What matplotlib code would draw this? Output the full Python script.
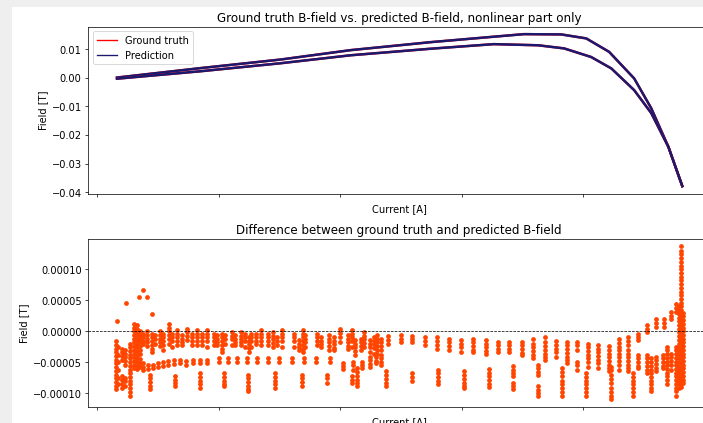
import numpy as np
import matplotlib
matplotlib.use('Agg')
import matplotlib.pyplot as plt
from matplotlib.lines import Line2D
from matplotlib.patches import Rectangle

# Nonlinear part of the B-field over one current cycle (current in A, field in T)
current_upper = [8.2, 42.5, 75.4, 104.3, 137.3, 163.2, 175.6, 190.9, 201.2, 210.6, 220.9, 227.9, 235.0, 240.7]
field_upper = [0.0001, 0.0034, 0.0064, 0.0097, 0.0125, 0.0144, 0.0153, 0.0152, 0.0138, 0.0091, -0.0002, -0.0106, -0.0242, -0.0379]
current_lower = [8.2, 42.5, 75.4, 104.3, 137.3, 163.2, 181.4, 192.1, 203.2, 211.5, 220.9, 227.9, 235.0, 240.7]
field_lower = [-0.0003, 0.0023, 0.0051, 0.0079, 0.0102, 0.0118, 0.0114, 0.0103, 0.0073, 0.0033, -0.0043, -0.0123, -0.0242, -0.0379]

# Difference ground truth - prediction, in microtesla, grouped per current step
outlier_current = [8.4, 12.0, 17.4, 18.8, 20.5, 22.5]
outlier_diff = [16, 45, 55, 67, 56, 28]

start_cluster = [
    (7.8, [-16, -22, -28, -34, -40, -46, -52, -58, -64, -70, -76, -82, -88, -93]),
    (8.8, [-25, -38, -50, -62, -75, -86]),
    (10.3, [-28, -34, -40, -46, -73, -79, -85, -91]),
    (11.5, [-30, -36, -42, -48, -54, -75, -81, -88]),
    (13.6, [-20, -26, -32, -38, -44, -50, -56, -62, -68, -74, -80, -86, -92, -98, -104]),
    (15.3, [12, 6, 0, -6, -12, -18, -24, -30, -36, -42, -48, -54, -60]),
    (16.5, [10, 4, -2, -8, -14, -20, -26, -32, -38, -44, -50, -56, -61]),
    (17.7, [0, -6, -12, -18, -24, -30, -36, -45, -52, -58]),
]

upper_band = [
    (19.1, [-4, -10, -16, -20]), (20.5, [0, -6, -12, -18, -24]),
    (22.5, [-4, -10, -16, -22, -28, -33]), (23.9, [-6, -12, -20]),
    (26.0, [0, -6, -12, -18, -24]), (27.3, [-4, -10, -16, -22, -30]),
    (29.4, [12, 6, 0, -6, -12, -20]), (30.8, [-4, -10, -16, -25]),
    (32.9, [2, -4, -10, -16, -22]), (34.9, [-6, -12, -17, -22]),
    (37.0, [4, -2, -8, -14]), (39.0, [-4, -10, -16, -22]),
    (41.1, [2, -4, -10, -16, -22]), (43.2, [-4, -10, -16, -22]),
    (45.2, [2, -4, -10, -16, -25]), (47.9, [-4, -10, -16, -22]),
    (49.3, [-6, -12, -17, -22]), (51.4, [-4, -10, -16, -22, -28, -33]),
    (52.8, [-6, -12, -20]), (55.5, [-1, -7, -13, -22]),
    (56.9, [-6, -12, -17, -22]), (59.4, [-1, -7, -13, -18, -22]),
    (61.0, [-4, -10, -16, -25]), (62.4, [-9, -15, -21, -27, -33]),
    (63.5, [-4, -10, -16, -25]), (65.4, [-4, -10, -16, -20]),
    (67.6, [2, -4, -10, -16, -22]), (70.4, [-4, -10, -16, -22]),
    (72.3, [-1, -7, -13, -19, -25]), (74.1, [-9, -15, -22]),
    (76.1, [2, -4, -10, -16, -25]), (80.9, [-4, -10, -16, -25]),
    (83.0, [-14, -20, -25, -30]), (84.6, [2, -4, -10, -16, -22, -28, -33]),
    (85.7, [-6, -12, -18, -25]), (90.6, [-4, -10, -16, -22]),
    (92.3, [-9, -15, -20, -25]), (95.3, [-6, -12, -18, -24, -30]),
    (97.4, [-9, -15, -21, -27, -30]), (99.9, [3, -3, -9, -17]),
    (103.2, [-6, -12, -18, -24, -28]), (105.0, [2, -4, -10, -16, -25]),
    (105.9, [-14, -20, -26, -32, -38]), (108.4, [-12, -18, -24, -30]),
    (109.8, [-1, -7, -13, -19, -25]), (112.2, [-14, -20, -26, -33]),
    (113.9, [-9, -15, -21, -27, -36]), (115.3, [-6, -12, -18, -24, -30, -36]),
    (116.7, [-12, -18, -24, -30, -38]), (119.8, [-8, -14, -20]),
    (124.9, [-6, -12, -17]), (129.7, [-8, -13, -18]),
    (134.9, [-10, -16, -22]), (139.7, [-10, -16, -22, -28]),
    (144.8, [-12, -18, -24, -30]), (149.6, [-14, -20, -26, -33]),
    (154.7, [-12, -18, -24, -30, -33]), (159.9, [-14, -20, -26, -32, -36]),
    (164.8, [-17, -23, -28, -33]), (169.5, [-17, -23, -28, -33]),
    (174.8, [-17, -23, -29, -35, -38]), (179.4, [-12, -20, -26, -32, -38, -44]),
    (184.3, [-10, -18, -24, -30, -36, -42, -46]), (188.8, [-16, -22, -28, -34, -41]),
    (193.3, [-17, -23, -29, -35, -41, -47, -51]), (197.4, [-17, -23, -30]),
    (201.9, [-20, -26, -32, -38, -44, -50, -57]), (206.2, [-22, -28, -34, -40, -46, -52, -60]),
    (210.5, [-24, -30, -36, -42, -48, -54, -60, -65]), (214.5, [-13, -19, -25, -30]),
    (218.3, [-9, -15, -22]), (222.5, [-4, -9, -14]),
    (226.3, [10, 4, -1]), (229.7, [20, 14, 7]),
    (233.0, [20, 14, 7]), (236.2, [31, 25, 20]),
    (238.2, [44, 38, 31]),
]

middle_band = [
    (18.9, [-52, -57, -62]), (21.0, [-55, -61]), (23.1, [-54, -60]),
    (25.1, [-52, -58]), (27.2, [-50, -56]), (29.3, [-48, -55]),
    (31.7, [-47, -53]), (34.2, [-47, -52]), (36.7, [-48, -54]),
    (39.6, [-46, -52]), (42.5, [-46, -52]), (45.3, [-46, -52]),
    (50.0, [-43, -50]), (53.9, [-43, -50]), (57.6, [-43, -50]),
    (61.7, [-43, -50]), (65.8, [-43, -50]), (70.4, [-43, -50]),
    (75.0, [-43, -50]), (80.0, [-43, -50]), (85.0, [-43, -50]),
    (90.1, [-43, -50]), (95.8, [-43, -50]),
    (101.3, [-51, -56, -61]), (105.4, [-49, -55, -62]), (109.1, [-49, -54, -59]),
    (112.2, [-41, -47, -53, -57]), (114.6, [-36, -42, -48, -52]), (116.7, [-44, -49, -54]),
    (197.4, [-49, -55, -62]), (214.5, [-36, -42, -48, -54, -62]),
    (218.3, [-30, -36, -42, -48, -54, -60, -65]), (222.5, [-38, -44, -50, -56, -60]),
    (226.3, [-38, -44, -50, -56, -62, -68]), (229.7, [-41, -47, -53, -59, -65]),
    (232.8, [-38, -44, -50, -56, -60]), (236.2, [-36, -42, -48, -54, -62]),
]

lower_band = [
    (21.8, [-70, -76, -82, -88, -94]), (32.2, [-73, -79, -84, -89]),
    (42.5, [-68, -74, -80, -86, -92]), (52.1, [-68, -74, -80, -86, -89]),
    (62.1, [-70, -76, -82, -88, -94, -97]), (73.1, [-68, -74, -80, -86, -92]),
    (84.1, [-70, -76, -82, -89]), (94.7, [-70, -76, -84]),
    (105.0, [-73, -79, -84]), (107.0, [-60, -66, -72, -78, -84, -89]),
    (118.7, [-65, -71, -77, -83, -89]), (129.7, [-68, -74, -81]),
    (140.4, [-62, -68, -74, -80, -86]), (151.0, [-65, -71, -77, -83, -89, -92]),
    (161.0, [-61, -67, -73, -79, -85, -90]), (171.2, [-56, -62, -68, -73, -83, -88, -93]),
    (181.2, [-54, -60, -66, -70, -89, -95, -100, -105]),
    (191.3, [-60, -66, -73, -80, -86, -92, -98, -105]),
    (201.2, [-68, -74, -80, -86, -92, -98, -105]),
    (211.5, [-57, -63, -70, -77, -84, -91, -98, -104, -110]),
    (220.4, [-68, -74, -80, -86, -92, -98, -105]),
    (228.0, [-44, -50, -56, -62, -68, -74, -80, -86, -92, -97]),
    (234.5, [-25, -31, -37, -43, -49, -55, -61, -67, -73, -79, -86]),
    (238.2, [-25, -31, -37, -43, -49, -55, -61, -67, -73, -79, -85, -91, -97, -105]),
]

# saturation end of the cycle
spike = [
    (239.5, [40, 34, 28, 22, 16, 10, 4, -2, -8, -14, -20, -26, -32, -38, -44, -50,
             -56, -62, -68, -74, -80, -86, -92]),
    (240.3, [137, 130, 124, 118, 112, 106, 100, 94, 88, 82, 76, 70, 64, 58, 52, 46,
             40, 34, 28, 22, 16, 10, 4, -2, -8, -14, -20, -26, -32, -38, -44, -50,
             -56, -62, -68, -74, -80, -86, -90]),
    (241.1, [30, 24, 18, 12, 6, 0, -6, -12, -18, -24, -30, -36, -42, -48, -54, -60,
             -66, -72, -78, -84]),
]

current_ticks = [0, 50, 100, 150, 200, 250]


def flatten(strips):
    xs, ys = [], []
    for x, col in strips:
        xs += [x] * len(col)
        ys += col
    return xs, ys


diff_x, diff_y = list(outlier_current), list(outlier_diff)
for group in (start_cluster, upper_band, middle_band, lower_band, spike):
    gx, gy = flatten(group)
    diff_x += gx
    diff_y += gy
diff_y = np.array(diff_y) * 1e-6

plt.rcParams['font.size'] = 11

DPI = 65
fig = plt.figure(figsize=(703.5 / DPI, 423.5 / DPI), dpi=DPI, facecolor='#efefef')
fig.patches.append(Rectangle((12 / 703, 0), 1, 416 / 423, transform=fig.transFigure,
                             facecolor='white', edgecolor='none', zorder=-1))

ax1 = fig.add_axes([88 / 703, 1 - 194 / 423, 622 / 703, 167 / 423])
ax2 = fig.add_axes([88 / 703, 1 - 407 / 423, 622 / 703, 168 / 423])

for cx, fy in ((current_upper, field_upper), (current_lower, field_lower)):
    ax1.plot(cx, fy, color='red', lw=2.7)
    ax1.plot(cx, fy, color='midnightblue', lw=2.7)
ax1.set_title('Ground truth B-field vs. predicted B-field, nonlinear part only')
ax1.set_xlabel('Current [A]')
ax1.set_ylabel('Field [T]')
ax1.legend(handles=[Line2D([], [], color='red', label='Ground truth'),
                    Line2D([], [], color='midnightblue', label='Prediction')],
           loc='upper left')

ax2.scatter(diff_x, diff_y, s=28, color='orangered', linewidths=0)
ax2.axhline(0, color='black', linestyle='--', linewidth=0.8)
ax2.set_title('Difference between ground truth and predicted B-field')
ax2.set_xlabel('Current [A]')
ax2.set_ylabel('Field [T]')

for ax in (ax1, ax2):
    ax.set_xlim(-3.7, 252.3)
    ax.set_xticks(current_ticks)
    ax.set_xticklabels([])

fig.savefig('out.png', dpi=DPI, facecolor=fig.get_facecolor())
